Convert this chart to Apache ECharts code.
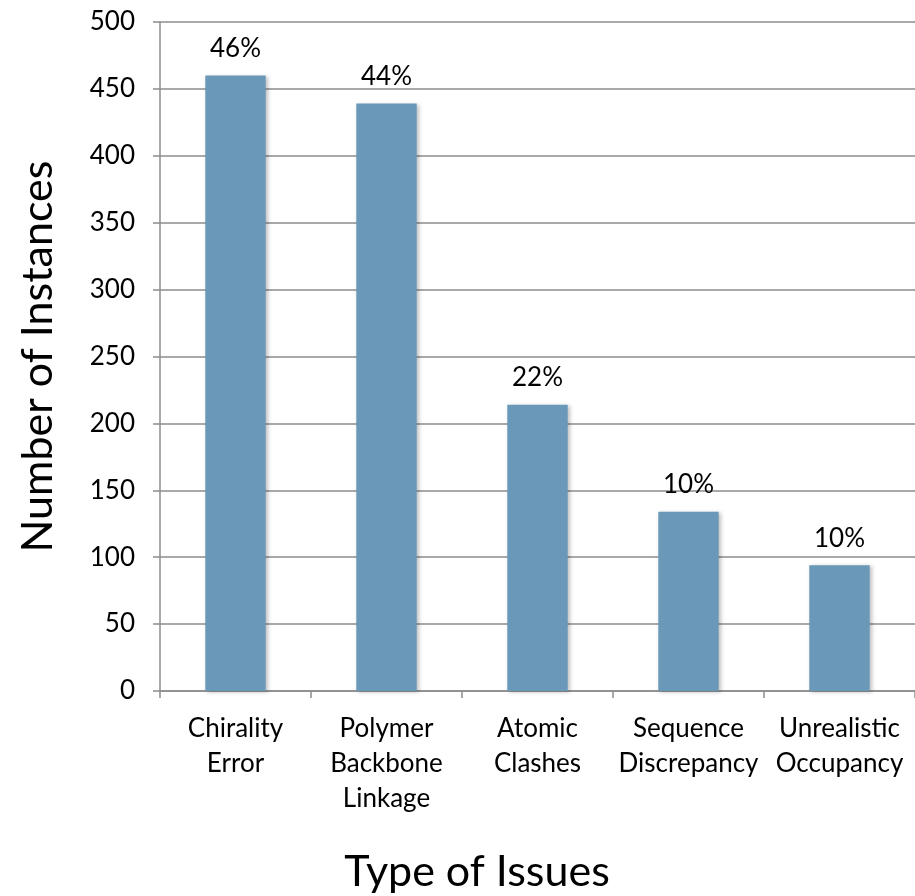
<!DOCTYPE html>
<html>
<head>
<meta charset="utf-8">
<script src="https://cdn.jsdelivr.net/npm/echarts@6/dist/echarts.min.js"></script>
<style>
    html, body { margin: 0; padding: 0; background: #fff; }
    #chart { width: 915px; height: 896px; }
</style>
</head>
<body>
<div id="chart"></div>
<script>
const categories = ['Chirality\nError', 'Polymer\nBackbone\nLinkage', 'Atomic\nClashes', 'Sequence\nDiscrepancy', 'Unrealistic\nOccupancy'];
const instances = [460, 439, 214, 134, 94];
const percentLabels = ['46%', '44%', '22%', '10%', '10%'];
const yTicks = [0, 50, 100, 150, 200, 250, 300, 350, 400, 450, 500];

const font = 'Lato';
const gridColor = '#8c8c8c';

let myChart = echarts.init(document.getElementById('chart'));
let option = {
    animation: false,
    textStyle: { fontFamily: font },
    title: {
        text: 'Type of Issues',
        left: 472,
        top: 846,
        textAlign: 'center',
        textStyle: { fontFamily: font, fontSize: 43, fontWeight: 'normal', color: '#000' }
    },
    grid: {
        left: 160,
        top: 22,
        width: 762,
        height: 669
    },
    xAxis: {
        type: 'category',
        data: categories,
        axisLine: { lineStyle: { color: gridColor, width: 1.5 } },
        axisTick: { show: true, length: 7, lineStyle: { color: gridColor, width: 1.5 } },
        axisLabel: {
            color: '#000',
            fontSize: 26,
            lineHeight: 35,
            margin: 20,
            interval: 0
        }
    },
    yAxis: {
        type: 'value',
        min: 0,
        max: 500,
        interval: 50,
        name: 'Number of Instances',
        nameLocation: 'middle',
        nameGap: 100,
        nameTextStyle: { fontFamily: font, fontSize: 43, color: '#000' },
        axisLine: { show: true, lineStyle: { color: gridColor, width: 1.5 } },
        axisTick: { show: true, length: 7, lineStyle: { color: gridColor, width: 1.5 } },
        splitLine: { lineStyle: { color: gridColor, width: 1.5 } },
        axisLabel: {
            color: '#000',
            fontSize: 26,
            margin: 25,
            formatter: (v) => (yTicks.indexOf(v) >= 0 ? String(v) : '')
        }
    },
    series: [
        {
            type: 'bar',
            data: instances,
            barWidth: '40%',
            itemStyle: {
                color: '#6a98b9',
                shadowColor: 'rgba(0,0,0,0.25)',
                shadowBlur: 4,
                shadowOffsetX: 2,
                shadowOffsetY: 1
            },
            label: {
                show: true,
                position: 'top',
                distance: 14,
                fontSize: 26,
                color: '#000',
                formatter: (p) => percentLabels[p.dataIndex]
            }
        }
    ]
};
myChart.setOption(option);
</script>
</body>
</html>
